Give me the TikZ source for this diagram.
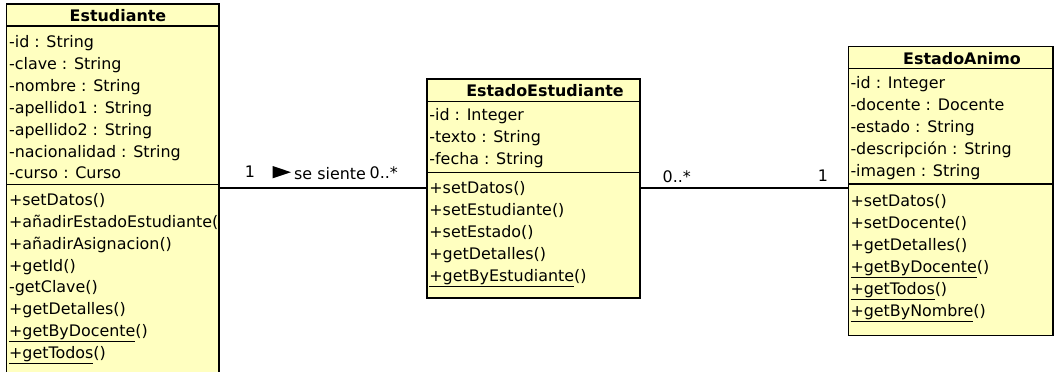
\documentclass[tikz,border=0pt]{standalone}
\usepackage{fontspec}
\setmainfont{DejaVu Sans}

\definecolor{umlfill}{HTML}{FFFFC0}
\newcommand{\umlfont}{\fontsize{15.9}{22}\selectfont}

\tikzset{
	compart/.style={draw=black, fill=umlfill, line width=1.2pt, anchor=north west, inner sep=0pt, outer sep=0pt},
	cname/.style={anchor=base, inner sep=0pt, font=\umlfont\bfseries},
	member/.style={anchor=base west, inner sep=0pt, font=\umlfont},
	mult/.style={anchor=base, inner sep=0pt, font=\umlfont},
	assoc/.style={draw=black, line width=1.2pt},
}

\begin{document}
\begin{tikzpicture}[x=1pt, y=-1pt]
	\useasboundingbox (0,0) rectangle (1063,372);
	\clip (0,0) rectangle (1063,372);

	% Estudiante
	\node[compart, minimum width=212.3pt, minimum height=22pt] (est-head) at (6.7,4) {};
	\node[compart, minimum width=212.3pt, minimum height=158.3pt] (est-attr) at (est-head.south west) {};
	\node[compart, minimum width=212.3pt, minimum height=220pt] (est-ops) at (est-attr.south west) {};
	\node[cname] (est-name) at (118,21.7) {Estudiante};
	\foreach \m [count=\i from 0] in {-id : String, -clave : String, -nombre : String,
			-apellido1 : String, -apellido2 : String, -nacionalidad : String, -curso : Curso}
		\node[member] (est-a\i) at (8.9,{47.8+21.85*\i}) {\m};
	\begin{scope}
		\clip (est-ops.north west) rectangle (est-ops.south east);
		\foreach \m [count=\i from 0] in {+setDatos(), +añadirEstadoEstudiante(), +añadirAsignacion(),
				+getId(), -getClave(), +getDetalles(), {\underline{+getByDocente}()}, {\underline{+getTodos}()}}
			\node[member] (est-o\i) at (8.9,{205.5+21.85*\i}) {\m};
	\end{scope}

	% EstadoEstudiante
	\node[compart, minimum width=213pt, minimum height=22.7pt] (ee-head) at (427,79) {};
	\node[compart, minimum width=213pt, minimum height=71pt] (ee-attr) at (ee-head.south west) {};
	\node[compart, minimum width=213pt, minimum height=125.3pt] (ee-ops) at (ee-attr.south west) {};
	\node[cname] (ee-name) at (545,96.7) {EstadoEstudiante};
	\foreach \m [count=\i from 0] in {-id : Integer, -texto : String, -fecha : String}
		\node[member] (ee-a\i) at (429.2,{120.7+22*\i}) {\m};
	\foreach \m [count=\i from 0] in {+setDatos(), +setEstudiante(), +setEstado(), +getDetalles(),
			{\underline{+getByEstudiante}()}}
		\node[member] (ee-o\i) at (429.2,{193.2+22*\i}) {\m};

	% EstadoAnimo
	\node[compart, minimum width=204.7pt, minimum height=21.6pt] (ea-head) at (848.3,46.7) {};
	\node[compart, minimum width=204.7pt, minimum height=115.7pt] (ea-attr) at (ea-head.south west) {};
	\node[compart, minimum width=204.7pt, minimum height=151.7pt] (ea-ops) at (ea-attr.south west) {};
	\node[cname] (ea-name) at (962,64) {EstadoAnimo};
	\foreach \m [count=\i from 0] in {-id : Integer, -docente : Docente, -estado : String,
			-descripción : String, -imagen : String}
		\node[member] (ea-a\i) at (850.3,{88.3+22*\i}) {\m};
	\foreach \m [count=\i from 0] in {+setDatos(), +setDocente(), +getDetalles(),
			{\underline{+getByDocente}()}, {\underline{+getTodos}()}, {\underline{+getByNombre}()}}
		\node[member] (ea-o\i) at (850.3,{206.3+22*\i}) {\m};

	% associations
	\coordinate (assoc-y) at (0,188);
	\draw[assoc] (est-ops.east |- assoc-y) -- (ee-ops.west |- assoc-y);
	\draw[assoc] (ee-ops.east |- assoc-y) -- (ea-ops.west |- assoc-y);

	\node[mult] (m-est) at (250,177) {1};
	\fill (272.7,166) -- (291,172.2) -- (272.7,178.3) -- cycle;
	\node[member] (assoc-name) at (294,179.5) {se siente};
	\node[member] (m-ee1) at (369.5,178.5) {0..*};
	\node[member] (m-ee2) at (662.5,182) {0..*};
	\node[mult] (m-ea) at (823,181.7) {1};
\end{tikzpicture}
\end{document}
